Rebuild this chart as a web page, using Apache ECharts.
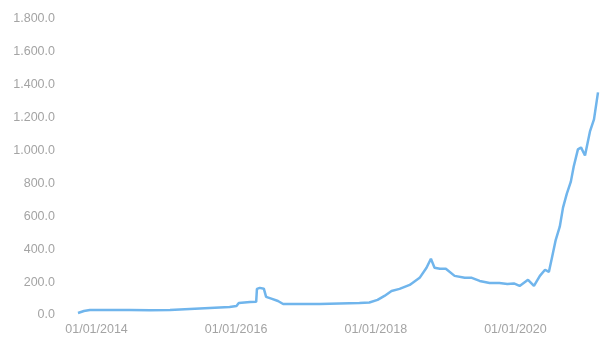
<!DOCTYPE html>
<html>
<head>
<meta charset="utf-8">
<script src="https://cdn.jsdelivr.net/npm/echarts@6/dist/echarts.min.js"></script>
<style>
html,body{margin:0;padding:0;background:#fff;}
#chart{width:601px;height:339px;}
</style>
</head>
<body>
<div id="chart"></div>
<script>
var dates = [
  '2013-09-26','2013-10-27','2013-11-27','2014-03-10','2014-06-24','2014-10-08',
  '2015-01-20','2015-05-04','2015-08-16','2015-11-28','2016-01-03','2016-01-15',
  '2016-03-14','2016-04-15','2016-04-19','2016-05-04','2016-05-25','2016-06-06',
  '2016-07-07','2016-08-07','2016-09-03','2016-11-30','2017-03-13','2017-06-25',
  '2017-10-07','2017-11-28','2018-01-10','2018-02-15','2018-03-24','2018-05-05',
  '2018-06-27','2018-08-18','2018-09-23','2018-10-16','2018-11-04','2018-12-02',
  '2019-01-02','2019-02-17','2019-04-11','2019-05-18','2019-06-28','2019-08-19',
  '2019-10-09','2019-11-20','2019-12-24','2020-01-23','2020-03-07','2020-04-07',
  '2020-05-08','2020-06-04','2020-06-24','2020-07-09','2020-07-30','2020-08-20',
  '2020-09-06','2020-09-26','2020-10-17','2020-11-01','2020-11-23','2020-12-09',
  '2020-12-30','2021-01-25','2021-02-15','2021-03-08'
];
var values = [
  12, 24, 30, 31, 30, 29,
  30, 37, 43, 49, 55, 73,
  79, 80, 159, 165, 160, 110,
  98, 85, 67, 67, 67, 70,
  73, 76, 92, 116, 146, 159,
  183, 226, 287, 342, 287, 281,
  281, 238, 226, 226, 207, 195,
  195, 189, 192, 177, 214, 177,
  238, 275, 262, 342, 457, 537,
  653, 738, 811, 903, 1007, 1019,
  970, 1116, 1190, 1354
];
var yTicks = [0, 200, 400, 600, 800, 1000, 1200, 1400, 1600, 1800];

function fmtY(v) {
  var s = String(Math.round(v));
  s = s.replace(/\B(?=(\d{3})+(?!\d))/g, '.');
  return s + '.0';
}
function pad(n){ return n < 10 ? '0' + n : '' + n; }

var chart = echarts.init(document.getElementById('chart'), null, {renderer: 'canvas'});
var seriesData = dates.map(function (d, i) { return [d, values[i]]; });
var yearMs = 365.25 * 24 * 3600 * 1000;

chart.setOption({
  animation: false,
  backgroundColor: '#ffffff',
  grid: {left: 78, right: 3, top: 19, bottom: 24, containLabel: false},
  xAxis: {
    type: 'time',
    min: 'dataMin',
    max: 'dataMax',
    minInterval: yearMs,
    maxInterval: yearMs,
    axisLine: {show: false},
    axisTick: {show: false},
    splitLine: {show: false},
    axisLabel: {
      color: '#a4a4a4',
      fontSize: 12.5,
      fontFamily: 'Liberation Sans, Arial, sans-serif',
      margin: 8,
      hideOverlap: false,
      formatter: function (val) {
        var d = new Date(val);
        if (d.getMonth() === 0 && d.getDate() === 1 && d.getFullYear() % 2 === 0) {
          return pad(d.getDate()) + '/' + pad(d.getMonth() + 1) + '/' + d.getFullYear();
        }
        return '';
      }
    }
  },
  yAxis: {
    type: 'value',
    min: yTicks[0],
    max: yTicks[yTicks.length - 1],
    interval: 200,
    axisLine: {show: false},
    axisTick: {show: false},
    splitLine: {show: false},
    axisLabel: {
      color: '#a4a4a4',
      fontSize: 12.5,
      fontFamily: 'Liberation Sans, Arial, sans-serif',
      margin: 23,
      formatter: fmtY
    }
  },
  series: [{
    type: 'line',
    data: seriesData,
    showSymbol: false,
    smooth: false,
    lineStyle: {color: '#70b5ec', width: 2.5},
    itemStyle: {color: '#70b5ec'}
  }]
});
</script>
</body>
</html>
